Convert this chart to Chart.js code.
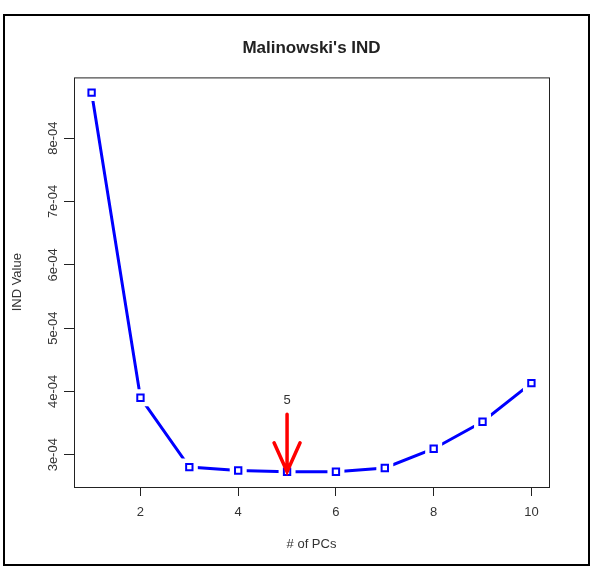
<!DOCTYPE html>
<html>
<head>
<meta charset="utf-8">
<script src="https://cdn.jsdelivr.net/npm/chart.js@4.4.0/dist/chart.umd.min.js"></script>
<style>
  body { margin: 0; background: #fff; }
  #wrap { width: 600px; height: 580px; }
</style>
</head>
<body>
<div id="wrap"><canvas id="myChart" width="600" height="580"></canvas></div>
<script>
// data
var pcs = [1, 2, 3, 4, 5, 6, 7, 8, 9, 10];
var indValues = [8.72e-4, 3.90e-4, 2.805e-4, 2.75e-4, 2.73e-4, 2.73e-4, 2.79e-4, 3.095e-4, 3.52e-4, 4.13e-4];
var xTicks = [2, 4, 6, 8, 10];
var yTicks = [3e-4, 4e-4, 5e-4, 6e-4, 7e-4, 8e-4];
var yTickLabels = ['3e-04', '4e-04', '5e-04', '6e-04', '7e-04', '8e-04'];
var bestPC = 5;
var arrowFrom = 3.64e-4;
var arrowLabelAt = 3.86e-4;

var points = pcs.map(function (x, i) { return {x: x, y: indValues[i]}; });
var FONT = '"Liberation Sans", Arial, sans-serif';

var rPlot = {
  id: 'rPlot',
  beforeDraw: function (chart) {
    var c = chart.ctx;
    c.save();
    c.fillStyle = '#fff';
    c.fillRect(0, 0, chart.width, chart.height);
    c.restore();
  },
  afterDatasetsDraw: function (chart) {
    var c = chart.ctx, a = chart.chartArea;
    var xs = chart.scales.x, ys = chart.scales.y;
    c.save();
    // outer frame
    c.strokeStyle = '#000';
    c.lineWidth = 2;
    c.strokeRect(4, 15, 585, 550);
    // plot box
    c.strokeStyle = '#222';
    c.lineWidth = 1;
    c.strokeRect(a.left + 0.5, a.top + 0.5, a.right - a.left, a.bottom - a.top);
    // y tick labels, rotated like R
    c.fillStyle = '#333';
    c.font = '13px ' + FONT;
    c.textAlign = 'center';
    c.textBaseline = 'middle';
    yTicks.forEach(function (v, i) {
      c.save();
      c.translate(53, ys.getPixelForValue(v));
      c.rotate(-Math.PI / 2);
      c.fillText(yTickLabels[i], 0, 0);
      c.restore();
    });
    // red arrow at the chosen number of PCs
    var ax = xs.getPixelForValue(bestPC);
    var tip = ys.getPixelForValue(indValues[bestPC - 1]);
    var from = ys.getPixelForValue(arrowFrom);
    c.strokeStyle = '#ff0000';
    c.lineWidth = 3.5;
    c.lineCap = 'round';
    c.beginPath();
    c.moveTo(ax, from);
    c.lineTo(ax, tip);
    c.moveTo(ax - 13, tip - 29);
    c.lineTo(ax, tip);
    c.lineTo(ax + 13, tip - 29);
    c.stroke();
    c.fillStyle = '#333';
    c.fillText(String(bestPC), ax, ys.getPixelForValue(arrowLabelAt));
    c.restore();
  }
};

var ctx = document.getElementById('myChart').getContext('2d');
var myChart = new Chart(ctx, {
  type: 'scatter',
  data: {
    datasets: [{
      // line with white squares to break it round each point (R type="b")
      data: points,
      showLine: true,
      borderColor: '#0000ff',
      borderWidth: 3,
      pointStyle: 'rect',
      pointRadius: 12,
      pointBackgroundColor: '#fff',
      pointBorderColor: '#fff',
      pointBorderWidth: 0,
      order: 2
    }, {
      data: points,
      showLine: false,
      pointStyle: 'rect',
      pointRadius: 4.5,
      pointBackgroundColor: '#fff',
      pointBorderColor: '#0000ff',
      pointBorderWidth: 2,
      order: 1
    }]
  },
  options: {
    responsive: false,
    animation: false,
    events: [],
    layout: { padding: { left: 0, right: 51, top: 0, bottom: 13 } },
    plugins: {
      legend: { display: false },
      tooltip: { enabled: false },
      title: {
        display: true,
        fullSize: false,
        text: "Malinowski's IND",
        color: '#222',
        font: { family: FONT, size: 17, weight: 'bold' },
        padding: { top: 38, bottom: 19 }
      }
    },
    scales: {
      x: {
        type: 'linear',
        min: 0.64,
        max: 10.36,
        afterBuildTicks: function (s) { s.ticks = xTicks.map(function (v) { return {value: v}; }); },
        afterFit: function (s) { s.height = 80; },
        border: { display: false },
        grid: { drawOnChartArea: false, drawTicks: true, tickLength: 9, color: '#222' },
        ticks: { color: '#333', font: { family: FONT, size: 13 }, padding: 9, maxRotation: 0 },
        title: {
          display: true,
          text: '# of PCs',
          color: '#333',
          font: { family: FONT, size: 13 },
          padding: { top: 0, bottom: 15 }
        }
      },
      y: {
        type: 'linear',
        min: 2.49e-4,
        max: 8.96e-4,
        afterBuildTicks: function (s) { s.ticks = yTicks.map(function (v) { return {value: v}; }); },
        afterFit: function (s) { s.width = 74; },
        border: { display: false },
        grid: { drawOnChartArea: false, drawTicks: true, tickLength: 10, color: '#222' },
        ticks: { display: false },
        title: {
          display: true,
          text: 'IND Value',
          color: '#333',
          font: { family: FONT, size: 13 },
          padding: { top: 10, bottom: 0 }
        }
      }
    }
  },
  plugins: [rPlot]
});
</script>
</body>
</html>
